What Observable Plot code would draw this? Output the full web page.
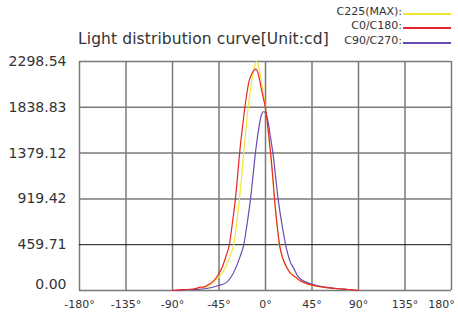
<!DOCTYPE html>
<html>
<head>
<meta charset="utf-8">
<script src="https://cdn.jsdelivr.net/npm/d3@7"></script>
<script src="https://cdn.jsdelivr.net/npm/@observablehq/plot@0.6"></script>
<style>
  html, body { margin: 0; padding: 0; background: #fff; }
  #wrap { position: relative; width: 458px; height: 312px; font-family: "DejaVu Sans", sans-serif; color: #333; overflow: hidden; }
  #title { position: absolute; left: 78px; top: 30px; font-size: 15.5px; white-space: nowrap; letter-spacing: 0.1px; }
  .leg { position: absolute; right: 56px; font-size: 11px; white-space: nowrap; text-align: right; }
  .legline { position: absolute; left: 403px; width: 48px; height: 1.5px; }
  svg { position: absolute; left: 0; top: 0; }
</style>
</head>
<body>
<div id="wrap"></div>
<script>
// ---- data ----
const seriesNames = ["C225(MAX):", "C0/C180:", "C90/C270:"];
const seriesColors = ["#f2e834", "#e8262d", "#6a4bb2"];

const c225Angles = [-90, -80, -70, -64, -58, -53, -48.7, -44, -41, -37.3, -34, -30.8, -28, -25.3, -23, -21.1, -19, -16.9, -15, -13.6, -11.5, -10, -8.8, -7.5, -6, -4.9, -3, -1.5, 0, 2.5, 4.9, 8.8, 13.6, 20.1, 29.2, 40.6, 56.8, 79.5, 90];
const c225Values = [0, 5, 12, 25, 33, 60, 100, 150, 190, 262, 360, 458, 660, 912, 1150, 1386, 1610, 1827, 1980, 2088, 2210, 2270, 2298.54, 2280, 2220, 2155, 2040, 1940, 1840, 1610, 1370, 900, 445, 240, 128, 64, 31, 9, 0];

const c0Angles = [-90, -80, -70, -66, -63, -60, -55, -50, -45, -42, -38, -35, -32, -29.2, -27, -25, -22.5, -20.1, -18, -16.2, -13, -11, -9.1, -7.5, -6, -4.5, -2.5, 0, 2.5, 4.9, 7, 8.8, 11, 13.6, 16.5, 20.1, 24, 29.2, 34, 40.6, 48, 56.8, 68, 79.5, 90];
const c0Values = [0, 8, 15, 25, 33, 33, 60, 100, 170, 230, 351, 458, 680, 912, 1150, 1386, 1620, 1827, 1980, 2088, 2180, 2212, 2222, 2190, 2130, 2050, 1950, 1827, 1620, 1386, 1150, 912, 680, 458, 330, 240, 175, 134, 95, 67, 48, 33, 20, 10, 0];

const c90Angles = [-90, -80, -70, -57, -45.5, -37.3, -33, -29.2, -25, -21.1, -17.5, -14.6, -12, -9.7, -7.5, -5.5, -4, -2.3, -0.5, 1, 2.6, 4.8, 7.1, 9.7, 12.3, 15.5, 19.5, 23.5, 27.6, 30.9, 36, 43.8, 56.8, 76, 90];
const c90Values = [0, 3, 8, 20, 50, 84, 140, 217, 330, 458, 690, 912, 1160, 1386, 1560, 1687, 1760, 1794, 1790, 1760, 1687, 1540, 1386, 1150, 912, 690, 458, 300, 217, 150, 100, 67, 33, 13, 0];

const yTicks = [0, 459.71, 919.42, 1379.12, 1838.83, 2298.54];
const xTicks = [-180, -135, -90, -45, 0, 45, 90, 135, 180];
const titleText = "Light distribution curve[Unit:cd]";

// ---- build table ----
const rows = [];
[[c225Angles, c225Values], [c0Angles, c0Values], [c90Angles, c90Values]].forEach(([a, v], i) => {
  a.forEach((ang, j) => rows.push({series: seriesNames[i], angle: ang, value: v[j]}));
});

const wrap = document.getElementById("wrap");
const fmtX = d => d + "°";

const plot = Plot.plot({
  width: 458,
  height: 312,
  marginLeft: 79,
  marginRight: 7,
  marginTop: 61,
  marginBottom: 22,
  style: {fontFamily: "DejaVu Sans, sans-serif", color: "#333", background: "transparent", overflow: "visible"},
  x: {domain: [-180, 180]},
  y: {domain: [0, 2298.54]},
  color: {domain: seriesNames, range: seriesColors},
  marks: [
    Plot.ruleX(xTicks, {stroke: "#7a7a7a", strokeWidth: 1.5}),
    Plot.ruleY(yTicks.filter(d => d !== 459.71), {stroke: "#7a7a7a", strokeWidth: 1.5}),
    Plot.ruleY([459.71], {stroke: "#111", strokeWidth: 1}),
    Plot.line(rows.filter(d => d.series === seriesNames[0]), {x: "angle", y: "value", stroke: "series", strokeWidth: 1.2, curve: "monotone-x"}),
    Plot.line(rows.filter(d => d.series === seriesNames[2]), {x: "angle", y: "value", stroke: "series", strokeWidth: 1.2, curve: "monotone-x"}),
    Plot.line(rows.filter(d => d.series === seriesNames[1]), {x: "angle", y: "value", stroke: "series", strokeWidth: 1.2, curve: "monotone-x"}),
    Plot.axisY(yTicks.filter(d => d !== 0), {tickSize: 0, tickPadding: 13, fontSize: 14, tickFormat: d => d.toFixed(2), label: null}),
    Plot.axisY([0], {tickSize: 0, tickPadding: 13, fontSize: 14, dy: -6, tickFormat: d => d.toFixed(2), label: null}),
    Plot.axisX(xTicks.filter(d => d !== 180), {tickSize: 0, tickPadding: 10, fontSize: 11, tickFormat: fmtX, label: null}),
    Plot.axisX([180], {tickSize: 0, tickPadding: 10, fontSize: 11, dx: -10, tickFormat: fmtX, label: null})
  ]
});
wrap.appendChild(plot);

const t = document.createElement("div");
t.id = "title";
t.textContent = titleText;
wrap.appendChild(t);

const legTops = [5, 19, 34];
seriesNames.forEach((n, i) => {
  const l = document.createElement("div");
  l.className = "leg";
  l.style.top = legTops[i] + "px";
  l.textContent = n;
  wrap.appendChild(l);
  const ln = document.createElement("div");
  ln.className = "legline";
  ln.style.top = (legTops[i] + 8) + "px";
  ln.style.background = seriesColors[i];
  wrap.appendChild(ln);
});
</script>
</body>
</html>
